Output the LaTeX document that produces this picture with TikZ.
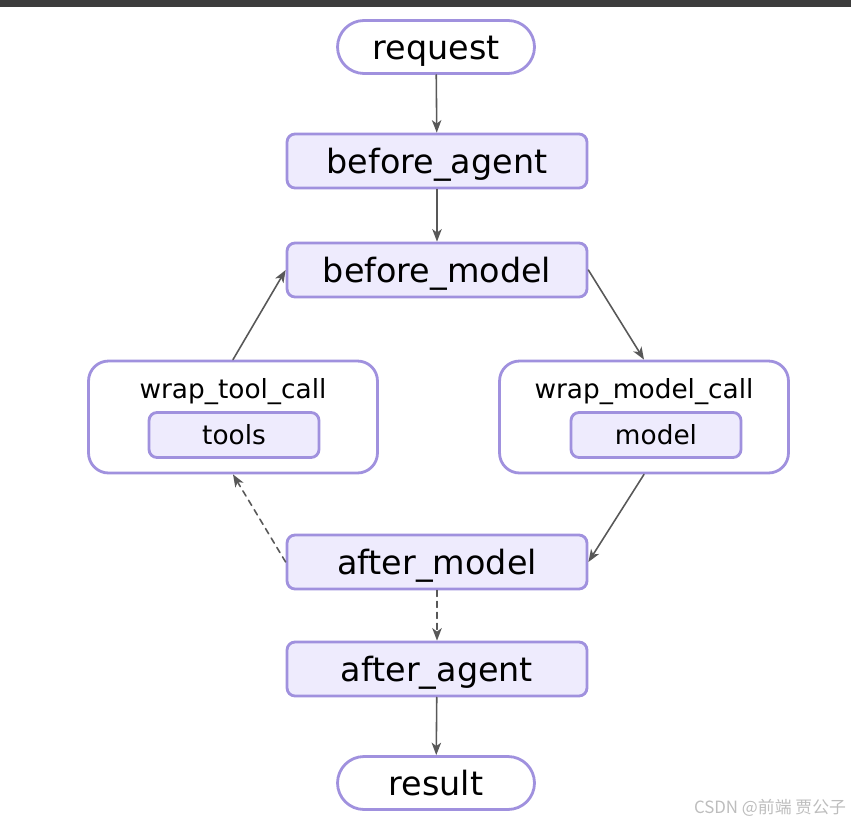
\documentclass[tikz,border=0pt]{standalone}
\usepackage{fontspec}
\setmainfont{DejaVu Sans}
\newfontfamily\cjkfont{Noto Sans CJK SC}
\usetikzlibrary{
    arrows.meta, % Arrow tips for the connectors.
}

\definecolor{hookline}{RGB}{160,145,222}
\definecolor{hookfill}{RGB}{238,235,253}
\definecolor{flowgray}{RGB}{88,88,88}
\definecolor{topbar}{RGB}{60,60,60}

\begin{document}
\begin{tikzpicture}[%
        x = 0.02cm,
        y = -0.02cm,
        line cap = round,
        bigtext/.style = {
            font = \fontsize{19pt}{23pt}\selectfont,
            text height = 14pt,
            text depth = 0pt
        },
        smalltext/.style = {
            font = \fontsize{15pt}{18pt}\selectfont,
            text height = 11pt,
            text depth = 0pt
        },
        hookbox/.style = {
            bigtext,
            draw = hookline,
            fill = hookfill,
            line width = 1.6pt,
            rounded corners = 0.16cm,
            minimum width = 6cm,
            minimum height = 1.08cm,
            inner sep = 0pt
        },
        endpoint/.style = {
            bigtext,
            draw = hookline,
            fill = white,
            line width = 1.6pt,
            rounded corners = 0.53cm,
            minimum width = 3.94cm,
            minimum height = 1.06cm,
            inner sep = 0pt
        },
        wrapbox/.style = {
            draw = hookline,
            fill = white,
            line width = 1.6pt,
            rounded corners = 0.4cm,
            minimum width = 5.78cm,
            minimum height = 2.24cm,
            inner sep = 0pt
        },
        innerbox/.style = {
            smalltext,
            draw = hookline,
            fill = hookfill,
            line width = 1.6pt,
            rounded corners = 0.16cm,
            minimum width = 3.4cm,
            minimum height = 0.9cm,
            inner sep = 0pt
        },
        flow/.style = {
            draw = flowgray,
            line width = 0.9pt,
            -{Stealth[length = 0.25cm, width = 0.19cm, inset = 0.07cm]}
        },
        maybe/.style = {
            flow,
            dash pattern = on 0.12cm off 0.1cm
        }
    ]

        % Fix the page to the size of the reference.
        \useasboundingbox (0, 0) rectangle (851, 824);
        \fill[topbar] (0, 0) rectangle (851, 7);

        % Nodes for the main column.
        \node[endpoint] (request) at (436, 47) {request};
        \node[hookbox] (bagent) at (437, 161) {before\_agent};
        \node[hookbox] (bmodel) at (437, 270) {before\_model};
        \node[hookbox] (amodel) at (437, 562) {after\_model};
        \node[hookbox] (aagent) at (437, 669) {after\_agent};
        \node[endpoint] (result) at (436, 783) {result};

        % The two wrapping hooks with what they wrap.
        \node[wrapbox] (wtool) at (233, 417) {};
        \node[smalltext] (wtooltext) at (233, 389) {wrap\_tool\_call};
        \node[innerbox] (tools) at (234, 435) {tools};

        \node[wrapbox] (wmodel) at (644, 417) {};
        \node[smalltext] (wmodeltext) at (644, 389) {wrap\_model\_call};
        \node[innerbox] (model) at (656, 435) {model};

        % Draw in the connectors.
        \draw[flow] (request) to (bagent);
        \draw[flow] (bagent) to (bmodel);
        \draw[flow] (bmodel.east) to (wmodel.north);
        \draw[flow] (wmodel.south) to (amodel.east);
        \draw[flow] (wtool.north) to (bmodel.west);
        \draw[maybe] (amodel.west) to (wtool.south);
        \draw[maybe] (amodel) to (aagent);
        \draw[flow] (aagent) to (result);

        % Watermark in the corner.
        \node[text = black!26, font = \cjkfont\fontsize{9.6pt}{12pt}\selectfont]
            (mark) at (770, 808) {CSDN @前端 贾公子};
    \end{tikzpicture}
\end{document}
